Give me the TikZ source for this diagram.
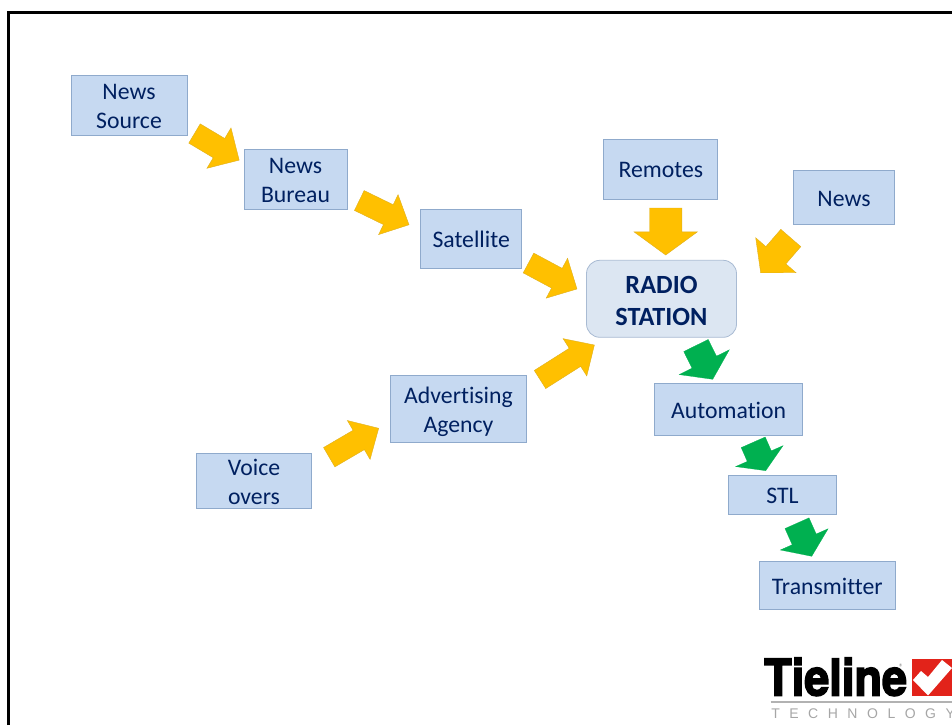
\documentclass[tikz,border=0pt]{standalone}
\usepackage{fontspec}
\usetikzlibrary{shapes.arrows}
\setmainfont[Ligatures=NoCommon]{Carlito}
\newfontfamily\logofont[FakeBold=3.2]{TeX Gyre Heros Bold}
\newfontfamily\techfont[LetterSpace=68]{Liberation Sans}
\definecolor{boxblue}{HTML}{C6D9F1}
\definecolor{boxline}{HTML}{8FAACC}
\definecolor{radioblue}{HTML}{DCE6F2}
\definecolor{radioline}{HTML}{A9BBD3}
\definecolor{navytext}{HTML}{002060}
\definecolor{feedorange}{HTML}{FFC000}
\definecolor{feedgreen}{HTML}{00B050}
\definecolor{logored}{HTML}{E2231A}
\tikzset{
    newsbox/.style 2 args={align=center, inner sep=0, text=navytext, draw=boxline, fill=boxblue, line width=0.6pt,
        minimum width=#1*0.75pt, minimum height=#2*0.75pt,
        text height=13.2pt, text depth=0pt,
        font=\fontsize{17.8}{21.75}\selectfont},
    twolines/.style={text height=35.2pt},
    % length, shaft width, head width, head length
    blockarrow/.style n args={4}{single arrow, anchor=tail, inner xsep=0, inner ysep=#2*0.375pt, outer sep=0,
        minimum height=#1*0.75pt, minimum width=#3*0.75pt,
        single arrow head extend={(#3-#2)*0.375pt},
        single arrow tip angle={2*atan(#3/(2*#4))}},
    orangearrow/.style={draw=feedorange!75!gray, line width=0.3pt, fill=feedorange},
    greenarrow/.style={draw=feedgreen, line width=0.2pt, fill=feedgreen},
}
\begin{document}
\begin{tikzpicture}[x=0.75pt, y=-0.75pt]

    \useasboundingbox (0,0) rectangle (952,725);

    %% Slide frame
    \draw[line width=1.9pt] (8.3,725) -- (8.3,12.3) -- (952,12.3);

    %% Sources

    % Left chain
    \node[newsbox={116}{60}, twolines] (source) at (129,105) {News\\Source};
    \node[newsbox={103}{60}, twolines] (bureau) at (295.5,179.2) {News\\Bureau};
    \node[newsbox={101}{59}] (satellite) at (471.2,238.7) {Satellite};

    % Lower chain
    \node[newsbox={115}{55}, twolines] (voice) at (254,480.7) {Voice\\overs};
    \node[newsbox={136}{67}, twolines] (agency) at (458.5,408.7) {Advertising\\Agency};

    % Upper right
    \node[newsbox={114}{60}] (remotes) at (660.8,169) {Remotes};
    \node[newsbox={101}{54}] (news) at (844,197.5) {News};

    %% Station
    \node[align=center, inner sep=0, text=navytext, draw=radioline, fill=radioblue, line width=0.6pt, rounded corners=10pt,
        minimum width=150*0.75pt, minimum height=77*0.75pt,
        text height=39.8pt, text depth=0pt,
        font=\fontsize{19.7}{24}\selectfont\bfseries] (station) at (661.5,298.8) {RADIO\\STATION};

    %% Air chain
    \node[newsbox={148}{52}] (automation) at (728.7,409.2) {Automation};
    \node[newsbox={108}{39}] (stl) at (782.5,495) {STL};
    \node[newsbox={136}{48}] (transmitter) at (827.3,585.3) {Transmitter};

    %% Feeds into the station
    \node[orangearrow, blockarrow={52}{22}{46.6}{23.3}, rotate=-30.8] (sourcefeed) at (194.5,133.5) {};
    \node[orangearrow, blockarrow={55.3}{21.7}{44}{22.8}, rotate=-26] (bureaufeed) at (359.3,200.5) {};
    \node[orangearrow, blockarrow={55}{22}{44.8}{22.6}, rotate=-28.2] (satfeed) at (528.5,263) {};
    \node[orangearrow, blockarrow={57.3}{22}{44.7}{22.9}, rotate=30.3] (voicefeed) at (329.2,457.2) {};
    \node[orangearrow, blockarrow={64.4}{21}{43.8}{22.8}, rotate=32.4] (agencyfeed) at (540,379.5) {};
    \node[orangearrow, blockarrow={47}{32}{63}{23}, rotate=-90] (remotefeed) at (665.7,208) {};
    \node[orangearrow, blockarrow={46}{26}{53}{23}, rotate=-130.9] (newsfeed) at (790.8,238) {};

    %% Feeds out of the station
    \node[greenarrow, blockarrow={37.7}{27}{55.7}{19}, rotate=-63.7] (stationfeed) at (696,345.5) {};
    \node[greenarrow, blockarrow={31}{26}{51.6}{15.8}, rotate=-66.2] (autofeed) at (753.2,442.3) {};
    \node[greenarrow, blockarrow={36.2}{26}{52}{18.4}, rotate=-66] (stlfeed) at (797,523.2) {};

    %% Logo
    \node[inner sep=0, anchor=base west, xscale=0.89, font=\fontsize{38}{38}\logofont] (tieline) at (764,695.5)
        {Tieline\hspace{-6.7pt}\raisebox{19pt}{\textcolor{gray}{\rmfamily\fontsize{7}{7}\selectfont ®}}};
    \fill[logored] (912,659.3) rectangle (952,695.7);
    \fill[white] (913,680) -- (928,695.5) -- (952,668) -- (942,660) -- (928,677) -- (921,671) -- cycle;
    \draw[line width=1.4pt, color=black!30] (770.7,702.3) -- (952,702.3);
    \node[inner sep=0, anchor=base west, text=black!35, font=\fontsize{10.5}{10.5}\techfont] (technology) at (771,718) {TECHNOLOGY};

\end{tikzpicture}
\end{document}
